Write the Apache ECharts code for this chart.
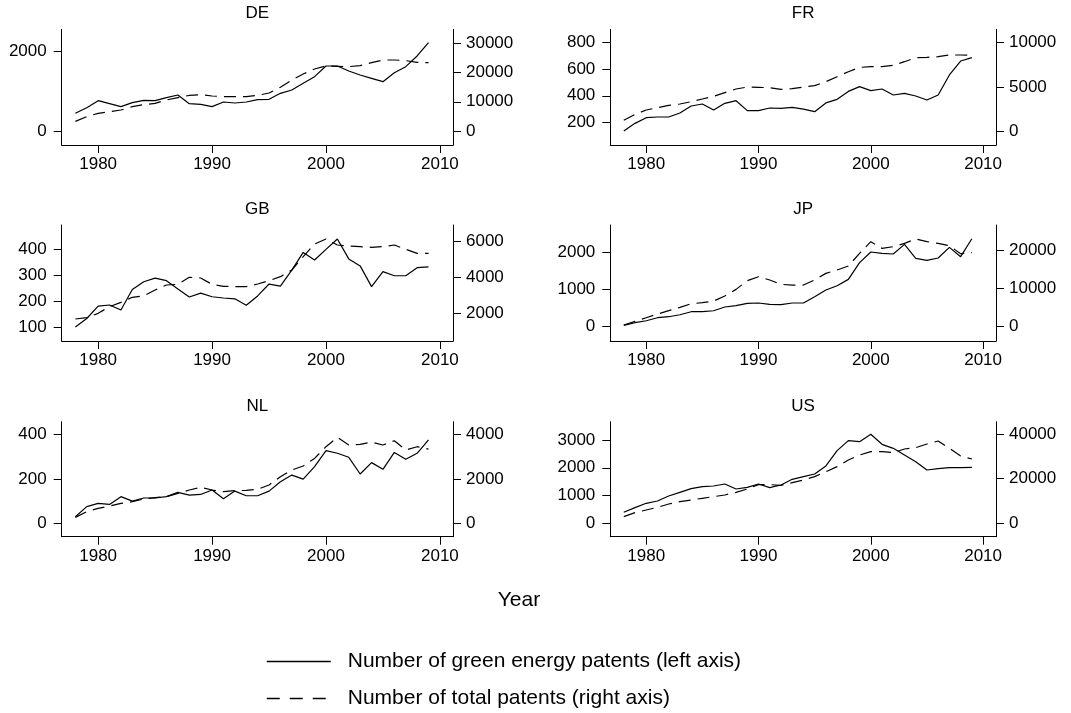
<!DOCTYPE html>
<html>
<head>
<meta charset="utf-8">
<script src="https://cdn.jsdelivr.net/npm/echarts@6/dist/echarts.min.js"></script>
<style>
  html, body { margin: 0; padding: 0; background: #fff; }
  #chart { width: 1071px; height: 713px; }
</style>
</head>
<body>
<div id="chart"></div>
<script>
// data
const years = [1978, 1979, 1980, 1981, 1982, 1983, 1984, 1985, 1986, 1987, 1988, 1989, 1990, 1991, 1992, 1993,
  1994, 1995, 1996, 1997, 1998, 1999, 2000, 2001, 2002, 2003, 2004, 2005, 2006, 2007, 2008, 2009]

const greenDE = [442, 583, 758, 683, 608, 708, 767, 758, 833, 900, 683, 667, 608, 725, 700, 725,
  783, 792, 942, 1025, 1192, 1358, 1625, 1625, 1500, 1400, 1317, 1233, 1458, 1608, 1875, 2208]
const totalDE = [3308, 4905, 6045, 6616, 7186, 8327, 9011, 9467, 10608, 11407, 12205, 12433, 11977, 11749, 11749, 11749,
  12205, 13003, 14943, 17452, 19505, 21216, 22243, 22129, 22015, 22357, 23384, 24296, 24296, 24068, 23498, 23384]

const greenFR = [135, 192, 235, 240, 240, 270, 323, 338, 293, 343, 363, 288, 288, 308, 305, 313,
  300, 280, 346, 373, 433, 469, 439, 451, 406, 418, 398, 368, 406, 557, 662, 687]
const totalFR = [1208, 1887, 2377, 2642, 2906, 3057, 3321, 3623, 3925, 4340, 4755, 4981, 4943, 4906, 4717, 4792,
  4981, 5132, 5585, 6151, 6717, 7208, 7283, 7283, 7434, 7849, 8302, 8340, 8415, 8604, 8604, 8566]

const greenGB = [100, 133, 181, 185, 166, 245, 275, 289, 279, 247, 216, 231, 217, 212, 209, 184,
  220, 266, 258, 320, 388, 359, 400, 440, 363, 336, 256, 314, 298, 298, 329, 332]
const totalGB = [1687, 1760, 2000, 2369, 2608, 2885, 2959, 3290, 3567, 3604, 3991, 3954, 3604, 3493, 3475, 3475,
  3622, 3806, 4028, 4396, 5134, 5834, 6111, 5779, 5724, 5687, 5650, 5687, 5779, 5539, 5318, 5318]

const greenJP = [36, 108, 162, 243, 270, 324, 405, 405, 432, 532, 568, 631, 640, 604, 595, 640,
  640, 811, 991, 1108, 1279, 1730, 2018, 1982, 1964, 2225, 1847, 1793, 1856, 2144, 1892, 2378]
const totalJP = [439, 1404, 2368, 3333, 4211, 5088, 6053, 6316, 6754, 8070, 9825, 12105, 13158, 12281, 11140, 10965,
  10965, 12281, 14035, 14912, 15965, 19298, 22368, 20614, 21053, 21930, 23070, 22368, 21930, 21300, 19200, 19500]

const greenNL = [30, 75, 90, 85, 120, 100, 114, 114, 120, 139, 127, 130, 150, 111, 145, 124,
  124, 145, 187, 217, 199, 255, 327, 315, 297, 222, 273, 243, 319, 288, 315, 375]
const totalNL = [270, 524, 674, 779, 899, 974, 1094, 1154, 1199, 1348, 1498, 1618, 1498, 1423, 1468, 1483,
  1528, 1723, 2097, 2397, 2577, 2921, 3446, 3865, 3521, 3551, 3655, 3521, 3715, 3296, 3446, 3341]

const greenUS = [396, 564, 720, 804, 984, 1116, 1248, 1320, 1344, 1416, 1236, 1296, 1416, 1284, 1380, 1584,
  1680, 1776, 2064, 2616, 2976, 2940, 3204, 2844, 2700, 2460, 2220, 1920, 1968, 2004, 2004, 2016]
const totalUS = [2985, 4776, 5970, 7164, 8657, 9701, 10448, 11194, 11940, 12687, 13881, 15373, 17313, 17313, 17015, 18209,
  19403, 20896, 23134, 25373, 28358, 30597, 32090, 32090, 31642, 33284, 33881, 35522, 36866, 33582, 30149, 28806]

const countries = ['DE', 'FR', 'GB', 'JP', 'NL', 'US']
const greenAll = [greenDE, greenFR, greenGB, greenJP, greenNL, greenUS]
const totalAll = [totalDE, totalFR, totalGB, totalJP, totalNL, totalUS]

// tick labels
const xTicks = [1980, 1990, 2000, 2010]
const leftTicks = [[0, 2000], [200, 400, 600, 800], [100, 200, 300, 400], [0, 1000, 2000], [0, 200, 400], [0, 1000, 2000, 3000]]
const rightTicks = [[0, 10000, 20000, 30000], [0, 5000, 10000], [2000, 4000, 6000], [0, 10000, 20000], [0, 2000, 4000], [0, 20000, 40000]]

const nameGreen = 'Number of green energy patents (left axis)'
const nameTotal = 'Number of total patents (right axis)'

// layout of the six panels
const FONT = 'Liberation Sans, Arial, Helvetica, sans-serif'
const panels = [
  { left: 61.7, top: 29.3, width: 391.3, height: 115.7, yl: [-350, 2542], yr: [-4789, 34790] },
  { left: 610.3, top: 29.3, width: 385.7, height: 115.7, yl: [29, 901], yr: [-1585, 11517] },
  { left: 61.7, top: 225, width: 391.3, height: 116, yl: [46, 494], yr: [470, 6884] },
  { left: 610.3, top: 225, width: 385.7, height: 116, yl: [-386, 2748], yr: [-3763, 26763] },
  { left: 61.7, top: 421.7, width: 391.3, height: 115, yl: [-60, 457], yr: [-600, 4570] },
  { left: 610.3, top: 421.7, width: 385.7, height: 115, yl: [-482, 3658], yr: [-6002, 45510] },
]

function axisBase(ticks, margin) {
  return {
    axisLine: { show: true, onZero: false, lineStyle: { color: '#000', width: 1 } },
    axisTick: { show: true, length: 8, customValues: ticks, lineStyle: { color: '#000', width: 1 } },
    axisLabel: {
      customValues: ticks, color: '#000', fontSize: 17, fontFamily: FONT, margin: margin,
      formatter: (v) => String(v),
    },
    splitLine: { show: false },
  }
}

const grid = []
const xAxis = []
const yAxis = []
const series = []
const title = []

panels.forEach((p, i) => {
  grid.push({ left: p.left, top: p.top, width: p.width, height: p.height })
  xAxis.push(Object.assign({ type: 'value', gridIndex: i, min: 1976.8, max: 2011.15 }, axisBase(xTicks, 11)))
  yAxis.push(Object.assign({ type: 'value', gridIndex: i, position: 'left', min: p.yl[0], max: p.yl[1] }, axisBase(leftTicks[i], 15)))
  yAxis.push(Object.assign({ type: 'value', gridIndex: i, position: 'right', min: p.yr[0], max: p.yr[1] }, axisBase(rightTicks[i], 13)))
  series.push({
    name: nameGreen, type: 'line', xAxisIndex: i, yAxisIndex: 2 * i, symbol: 'none',
    data: years.map((y, k) => [y, greenAll[i][k]]),
    lineStyle: { color: '#000', width: 1.2, type: 'solid' }, itemStyle: { color: '#000' },
  })
  series.push({
    name: nameTotal, type: 'line', xAxisIndex: i, yAxisIndex: 2 * i + 1, symbol: 'none',
    data: years.map((y, k) => [y, totalAll[i][k]]),
    lineStyle: { color: '#000', width: 1.2, type: [12, 7] }, itemStyle: { color: '#000' },
  })
  title.push({
    text: countries[i], left: p.left + p.width / 2, top: p.top - 24, textAlign: 'center', padding: 0,
    textStyle: { fontSize: 17, fontWeight: 'normal', color: '#000', fontFamily: FONT },
  })
})

title.push({
  text: 'Year', left: 519, top: 590, textAlign: 'center', padding: 0,
  textStyle: { fontSize: 21, fontWeight: 'normal', color: '#000', fontFamily: FONT },
})

const chart = echarts.init(document.getElementById('chart'))
chart.setOption({
  animation: false,
  backgroundColor: '#fff',
  title: title,
  legend: {
    orient: 'vertical', left: 266, top: 651, padding: 0,
    itemWidth: 64, itemHeight: 20, itemGap: 16,
    data: [
      { name: nameGreen, lineStyle: { width: 1.5, type: 'solid' } },
      { name: nameTotal, lineStyle: { width: 1.5, type: [13, 10] } },
    ],
    itemStyle: { opacity: 0 },
    textStyle: { fontSize: 21, color: '#000', fontFamily: FONT, padding: [0, 0, 0, 12] },
  },
  grid: grid,
  xAxis: xAxis,
  yAxis: yAxis,
  series: series,
})
</script>
</body>
</html>
